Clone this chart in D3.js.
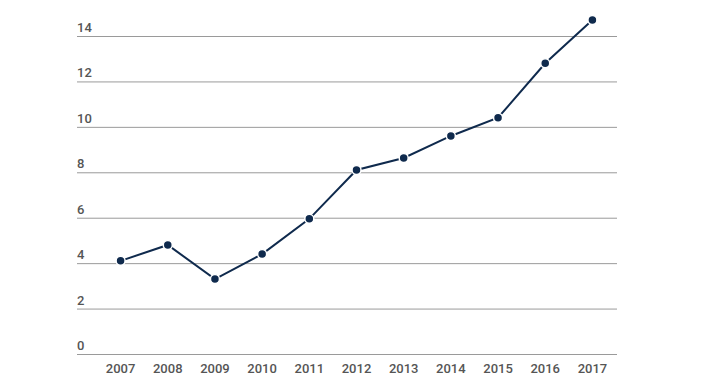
<!DOCTYPE html>
<html>
<head>
<meta charset="utf-8">
<script src="https://cdn.jsdelivr.net/npm/d3@7"></script>
<style>
  body { margin: 0; background: #fff; }
  text { font-family: Roboto, "Open Sans", sans-serif; }
</style>
</head>
<body>
<div id="chart"></div>
<script>
var years = ["2007", "2008", "2009", "2010", "2011", "2012", "2013", "2014", "2015", "2016", "2017"];
var values = [4.1, 4.8, 3.3, 4.4, 5.95, 8.1, 8.63, 9.6, 10.4, 12.8, 14.7];
var yTicks = [0, 2, 4, 6, 8, 10, 12, 14];

var outerWidth = 715, outerHeight = 377;

var svg = d3.select("#chart")
    .append("svg")
    .attr("width", outerWidth)
    .attr("height", outerHeight);

var x = d3.scaleBand()
    .domain(years)
    .range([97, 616]);

var y = d3.scaleLinear()
    .domain([0, 14])
    .range([354, 36]);

// gridlines with labels sitting on top left
var grid = svg.append("g");
grid.selectAll("line")
    .data(yTicks)
    .enter()
    .append("line")
    .attr("x1", 77)
    .attr("x2", 617)
    .attr("y1", d => y(d) + 0.5)
    .attr("y2", d => y(d) + 0.5)
    .attr("stroke", "#9a9a9a")
    .attr("stroke-width", 1);

grid.selectAll("text")
    .data(yTicks)
    .enter()
    .append("text")
    .attr("x", 77)
    .attr("y", d => y(d) - 4)
    .attr("fill", "#555")
    .style("font-size", "13px")
    .style("font-weight", 500)
    .text(d => d);

// year labels
svg.append("g").selectAll("text")
    .data(years)
    .enter()
    .append("text")
    .attr("x", d => x(d) + x.bandwidth() / 2)
    .attr("y", 373)
    .attr("text-anchor", "middle")
    .attr("fill", "#555")
    .style("font-size", "13px")
    .style("font-weight", 500)
    .text(d => d);

var pts = years.map((yr, i) => ({ year: yr, value: values[i] }));

var line = d3.line()
    .x(d => x(d.year) + x.bandwidth() / 2)
    .y(d => y(d.value));

svg.append("path")
    .datum(pts)
    .attr("d", line)
    .attr("fill", "none")
    .attr("stroke", "#0f2a4d")
    .attr("stroke-width", 2);

svg.append("g").selectAll("circle")
    .data(pts)
    .enter()
    .append("circle")
    .attr("cx", d => x(d.year) + x.bandwidth() / 2)
    .attr("cy", d => y(d.value))
    .attr("r", 4.5)
    .attr("fill", "#0f2a4d")
    .attr("stroke", "#fff")
    .attr("stroke-width", 1.5);
</script>
</body>
</html>
